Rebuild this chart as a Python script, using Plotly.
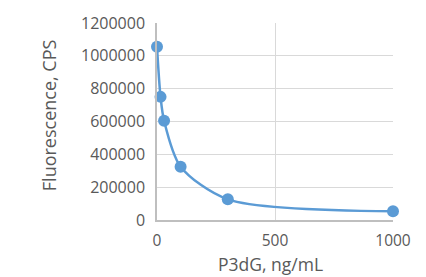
import plotly.graph_objects as go

conc = [0, 15, 30, 100, 300, 1000]
fluor = [1055000, 750000, 605000, 325000, 126000, 53000]
x_ticks = [0, 500, 1000]
y_ticks = [0, 200000, 400000, 600000, 800000, 1000000, 1200000]

FAM = "Open Sans, Liberation Sans, sans-serif"
GREY = "#595959"

fig = go.Figure()
fig.add_trace(go.Scatter(
    x=conc, y=fluor, mode="lines+markers",
    line=dict(color="#5B9BD5", width=2.5, shape="spline", smoothing=0.8),
    marker=dict(color="#5B9BD5", size=12),
    cliponaxis=False, showlegend=False,
))

fig.update_layout(
    width=426, height=277,
    margin=dict(l=157, r=33, t=15, b=57),
    paper_bgcolor="white", plot_bgcolor="white",
    font=dict(family=FAM, color=GREY, size=16),
    annotations=[
        dict(text="Fluorescence, CPS", xref="paper", yref="paper",
             x=-0.4576, y=0.532, xanchor="center", yanchor="middle",
             textangle=-90, showarrow=False,
             font=dict(family=FAM, size=18, color=GREY)),
        dict(text="P3dG, ng/mL", xref="paper", yref="paper",
             x=0.479, y=-0.222, xanchor="center", yanchor="middle",
             showarrow=False, borderpad=0,
             font=dict(family=FAM, size=17.5, color=GREY)),
    ],
)
fig.update_xaxes(
    range=[0, 1000], tickvals=x_ticks, ticktext=[str(v) for v in x_ticks],
    showgrid=True, gridcolor="#D9D9D9", gridwidth=1,
    showline=True, linecolor="#BFBFBF", linewidth=1.5,
    zeroline=False, ticks="outside", ticklen=6, tickcolor="rgba(0,0,0,0)",
    tickfont=dict(size=15.5),
)
fig.update_yaxes(
    range=[0, 1200000], tickvals=y_ticks, ticktext=[str(v) for v in y_ticks],
    showgrid=True, gridcolor="#D9D9D9", gridwidth=1,
    showline=True, linecolor="#BFBFBF", linewidth=1.5,
    zeroline=False, ticks="outside", ticklen=7, tickcolor="rgba(0,0,0,0)",
    tickfont=dict(size=16),
)
fig.write_html("out.html")
